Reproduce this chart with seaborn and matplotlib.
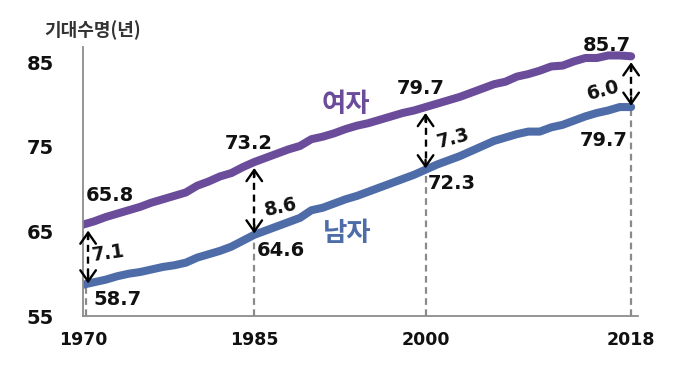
import numpy as np
import pandas as pd
import matplotlib
matplotlib.use("Agg")
import matplotlib.pyplot as plt
import seaborn as sns

years = list(range(1970, 2019))
female = [65.8, 66.2, 66.7, 67.1, 67.5, 67.9, 68.4, 68.8, 69.2, 69.6,
          70.4, 70.9, 71.5, 71.9, 72.6, 73.2, 73.7, 74.2, 74.7, 75.1,
          75.9, 76.2, 76.6, 77.1, 77.5, 77.8, 78.2, 78.6, 79.0, 79.3,
          79.7, 80.1, 80.5, 80.9, 81.4, 81.9, 82.4, 82.7, 83.3, 83.6,
          84.0, 84.5, 84.6, 85.1, 85.5, 85.5, 85.8, 85.8, 85.7]
male = [58.7, 59.0, 59.3, 59.7, 60.0, 60.2, 60.5, 60.8, 61.0, 61.3,
        61.9, 62.3, 62.7, 63.2, 63.9, 64.6, 65.1, 65.6, 66.1, 66.6,
        67.5, 67.8, 68.3, 68.8, 69.2, 69.7, 70.2, 70.7, 71.2, 71.7,
        72.3, 72.9, 73.4, 73.9, 74.5, 75.1, 75.7, 76.1, 76.5, 76.8,
        76.8, 77.3, 77.6, 78.1, 78.6, 79.0, 79.3, 79.7, 79.7]
key_years = [1970, 1985, 2000, 2018]
key_female = [65.8, 73.2, 79.7, 85.7]
key_male = [58.7, 64.6, 72.3, 79.7]
gaps = ["7.1", "8.6", "7.3", "6.0"]
y_ticks = [55, 65, 75, 85]
series_names = ["여자", "남자"]
colors = {"여자": "#6B4C9A", "남자": "#4E6CA8"}

sns.set_style("white")
plt.rcParams["font.family"] = ["DejaVu Sans", "Noto Sans CJK KR"]

df = pd.DataFrame({
    "year": years * 2,
    "value": female + male,
    "sex": ["여자"] * len(years) + ["남자"] * len(years),
})

fig = plt.figure(figsize=(6.99, 3.91), dpi=100)
ax = fig.add_axes([0.1187, 0.1918, 0.794, 0.688])
sns.lineplot(data=df, x="year", y="value", hue="sex", palette=colors,
             linewidth=5.8, legend=False, ax=ax, solid_capstyle="round")

ax.set_xlim(1970, 2018.6)
ax.set_ylim(55, 86.8)
ax.set_xticks(key_years)
ax.set_yticks(y_ticks)
ax.set_xlabel("")
ax.set_ylabel("")
for s in ["top", "right"]:
    ax.spines[s].set_visible(False)
for s in ["left", "bottom"]:
    ax.spines[s].set_color("#8c8c8c")
    ax.spines[s].set_linewidth(1.3)
ax.tick_params(axis="y", direction="out", length=7, width=1.3, color="#8c8c8c",
               pad=14, labelsize=14)
ax.tick_params(axis="x", direction="inout", length=9, width=1.3, color="#8c8c8c",
               pad=6, labelsize=12.5)
for lab in ax.get_xticklabels() + ax.get_yticklabels():
    lab.set_fontweight("bold")
    lab.set_color("#111111")

# vertical dashed guide lines from male value to axis
for i, (yr, m) in enumerate(zip(key_years, key_male)):
    xo = 0.3 if i == 0 else 0.0
    ax.plot([yr + xo, yr + xo], [55, m], ls=(0, (3, 2)), color="#8a8a8a",
            lw=1.6, zorder=1)

# double arrows between female and male
for i, (yr, f, m) in enumerate(zip(key_years, key_female, key_male)):
    xo = 0.45 if i == 0 else 0.0
    top = f - 0.7
    bot = m + 0.15
    ax.plot([yr + xo, yr + xo], [top - 0.3, bot + 0.3], ls=(0, (3, 2)),
            color="black", lw=1.7, zorder=5)
    for tip, tail in [(top, top - 1.0), (bot, bot + 1.0)]:
        ax.annotate("", xy=(yr + xo, tip), xytext=(yr + xo, tail),
                    arrowprops=dict(arrowstyle="->,head_length=0.5,head_width=0.35",
                                    color="black", lw=1.7, shrinkA=0, shrinkB=0,
                                    mutation_scale=16), zorder=6)

tkw = dict(fontsize=14, fontweight="bold", color="#111111", va="center")
# female value labels
ax.text(1970.2, 69.3, "65.8", ha="left", **tkw)
ax.text(1984.5, 75.4, "73.2", ha="center", **tkw)
ax.text(1999.6, 81.9, "79.7", ha="center", **tkw)
ax.text(2015.9, 87.0, "85.7", ha="center", **tkw)
# male value labels
ax.text(1970.9, 57.0, "58.7", ha="left", **tkw)
ax.text(1985.2, 62.7, "64.6", ha="left", **tkw)
ax.text(2000.2, 70.7, "72.3", ha="left", **tkw)
ax.text(2017.7, 75.8, "79.7", ha="right", **tkw)

# gap labels
gkw = dict(fontsize=13.5, fontweight="bold", color="#111111", ha="center", va="center")
ax.text(1972.2, 62.4, gaps[0], rotation=8, **gkw)
ax.text(1987.3, 67.9, gaps[1], rotation=12, **gkw)
ax.text(2002.4, 76.0, gaps[2], rotation=15, **gkw)
ax.text(2015.6, 81.7, gaps[3], rotation=15, **gkw)

# series labels
ax.text(1993.0, 80.0, series_names[0], color=colors["여자"], fontsize=19,
        fontweight="bold", ha="center", va="center", family="Noto Sans CJK KR")
ax.text(1993.1, 64.8, series_names[1], color=colors["남자"], fontsize=19,
        fontweight="bold", ha="center", va="center", family="Noto Sans CJK KR")

fig.text(0.132, 0.923, "기대수명(년)", fontsize=13, fontweight="bold",
         color="#333333", ha="center", va="center",
         family=["Noto Sans CJK KR", "DejaVu Sans"])

fig.savefig("out.png", dpi=100)
